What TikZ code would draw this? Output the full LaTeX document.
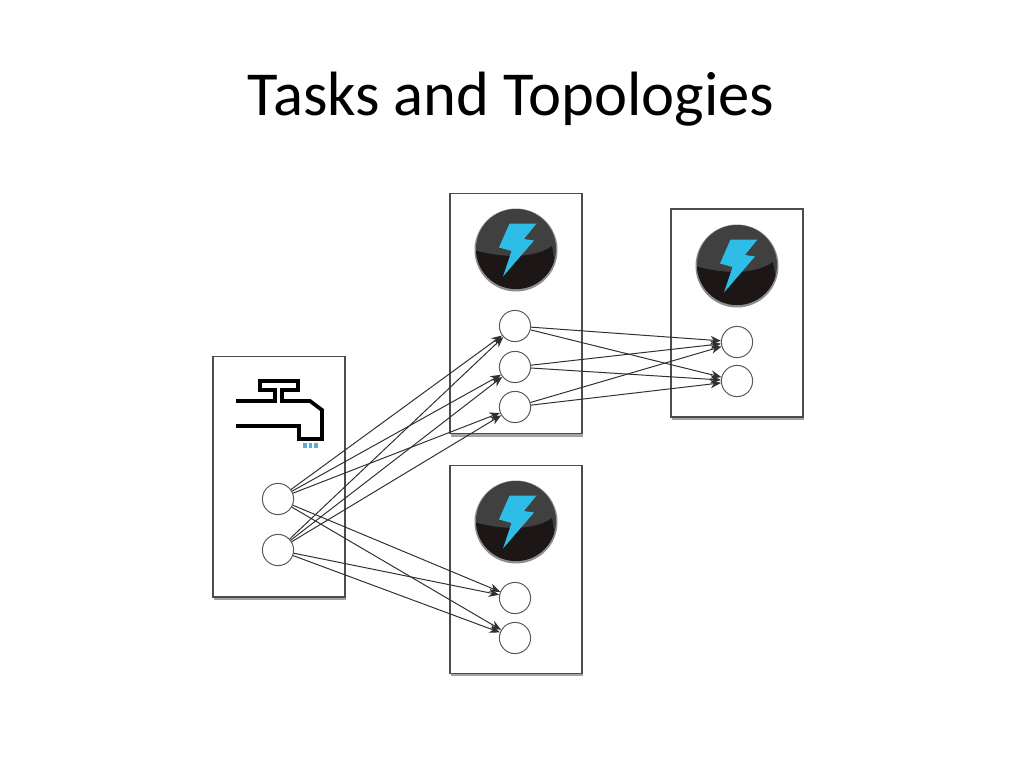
\documentclass[tikz,border=0pt]{standalone}
\usepackage{fontspec}
\usepackage{xcolor}
\setmainfont{Carlito}
\usetikzlibrary{shadows,arrows.meta}
\definecolor{boltblue}{HTML}{2DBDE6}
\definecolor{dripblue}{HTML}{5AAEDD}
\definecolor{logogray}{HTML}{404040}
\definecolor{logodark}{HTML}{1C1616}
\definecolor{edgegray}{HTML}{303030}
\tikzset{
  taskbox/.style={draw=black!70, fill=white, line width=0.8pt, minimum width=3.3cm, inner sep=0pt,
    drop shadow={shadow xshift=1pt, shadow yshift=-2pt, fill=black!60, opacity=0.6}},
  taskdot/.style={circle, draw=black!65, fill=white, line width=0.7pt, minimum size=0.78cm, inner sep=0pt},
  edge/.style={draw=edgegray, line width=0.7pt, -{Stealth[length=7.5pt,width=6pt]}},
  faucet/.style={line width=2.7pt, line join=miter, black}
}
\begin{document}
\begin{tikzpicture}[x=0.025cm,y=-0.025cm]
\useasboundingbox (0,0) rectangle (1024,768);

\node (title) at (511,99) {\fontsize{44.5}{52}\selectfont Tasks and Topologies};

% task boxes
\node[taskbox, minimum height=6.02cm] (spoutbox) at (279,476.5) {};
\node[taskbox, minimum height=6.02cm] (boltboxA) at (516,313.5) {};
\node[taskbox, minimum height=5.2cm] (boltboxB) at (737,313) {};
\node[taskbox, minimum height=5.2cm] (boltboxC) at (516,569.5) {};

% bolt logos
\foreach \x/\y in {516/249,737/265,516/521} {
  \fill[black!45] (\x,\y+1) circle (41.5);
  \fill[logogray] (\x,\y) circle (40);
  \begin{scope}
    \clip (\x,\y) circle (40);
    \fill[logodark] (\x-42,\y+1) .. controls (\x-15,\y+9) and (\x+18,\y+10) .. (\x+36,\y-3) -- (\x+44,\y+44) -- (\x-44,\y+44) -- cycle;
  \end{scope}
  \fill[boltblue] (\x-6.5,\y-25.5) -- (\x+20.5,\y-25.5) -- (\x+8,\y-10) -- (\x+18,\y-8.5) -- (\x-13,\y+27.5) -- (\x-4.5,\y+2) -- (\x-17,\y-1.5) -- cycle;
}

% faucet
\draw[faucet] (236,401) -- (275,401) -- (275,390) -- (260,390) -- (260,381) -- (298,381) -- (298,390) -- (282,390) -- (282,401) -- (310,401) -- (322,410) -- (322,439) -- (299,439) -- (299,426) -- (236,426);
\foreach \x in {305,310.5,316}
  \draw[dripblue, line width=2.2pt] (\x,443) -- (\x,447.5);

% spout and bolt tasks
\node[taskdot] (spoutA) at (278,499) {};
\node[taskdot] (spoutB) at (278,550) {};
\node[taskdot] (taskA) at (515,326) {};
\node[taskdot] (taskB) at (515,367) {};
\node[taskdot] (taskC) at (515,407) {};
\node[taskdot] (taskD) at (737,342) {};
\node[taskdot] (taskE) at (737,381) {};
\node[taskdot] (taskF) at (515,598) {};
\node[taskdot] (taskG) at (515,638) {};

\foreach \s in {spoutA,spoutB}
  \foreach \t in {taskA,taskB,taskC,taskF,taskG}
    \draw[edge] (\s) -- (\t);

\foreach \s in {taskA,taskB,taskC}
  \foreach \t in {taskD,taskE}
    \draw[edge] (\s) -- (\t);

\end{tikzpicture}
\end{document}
